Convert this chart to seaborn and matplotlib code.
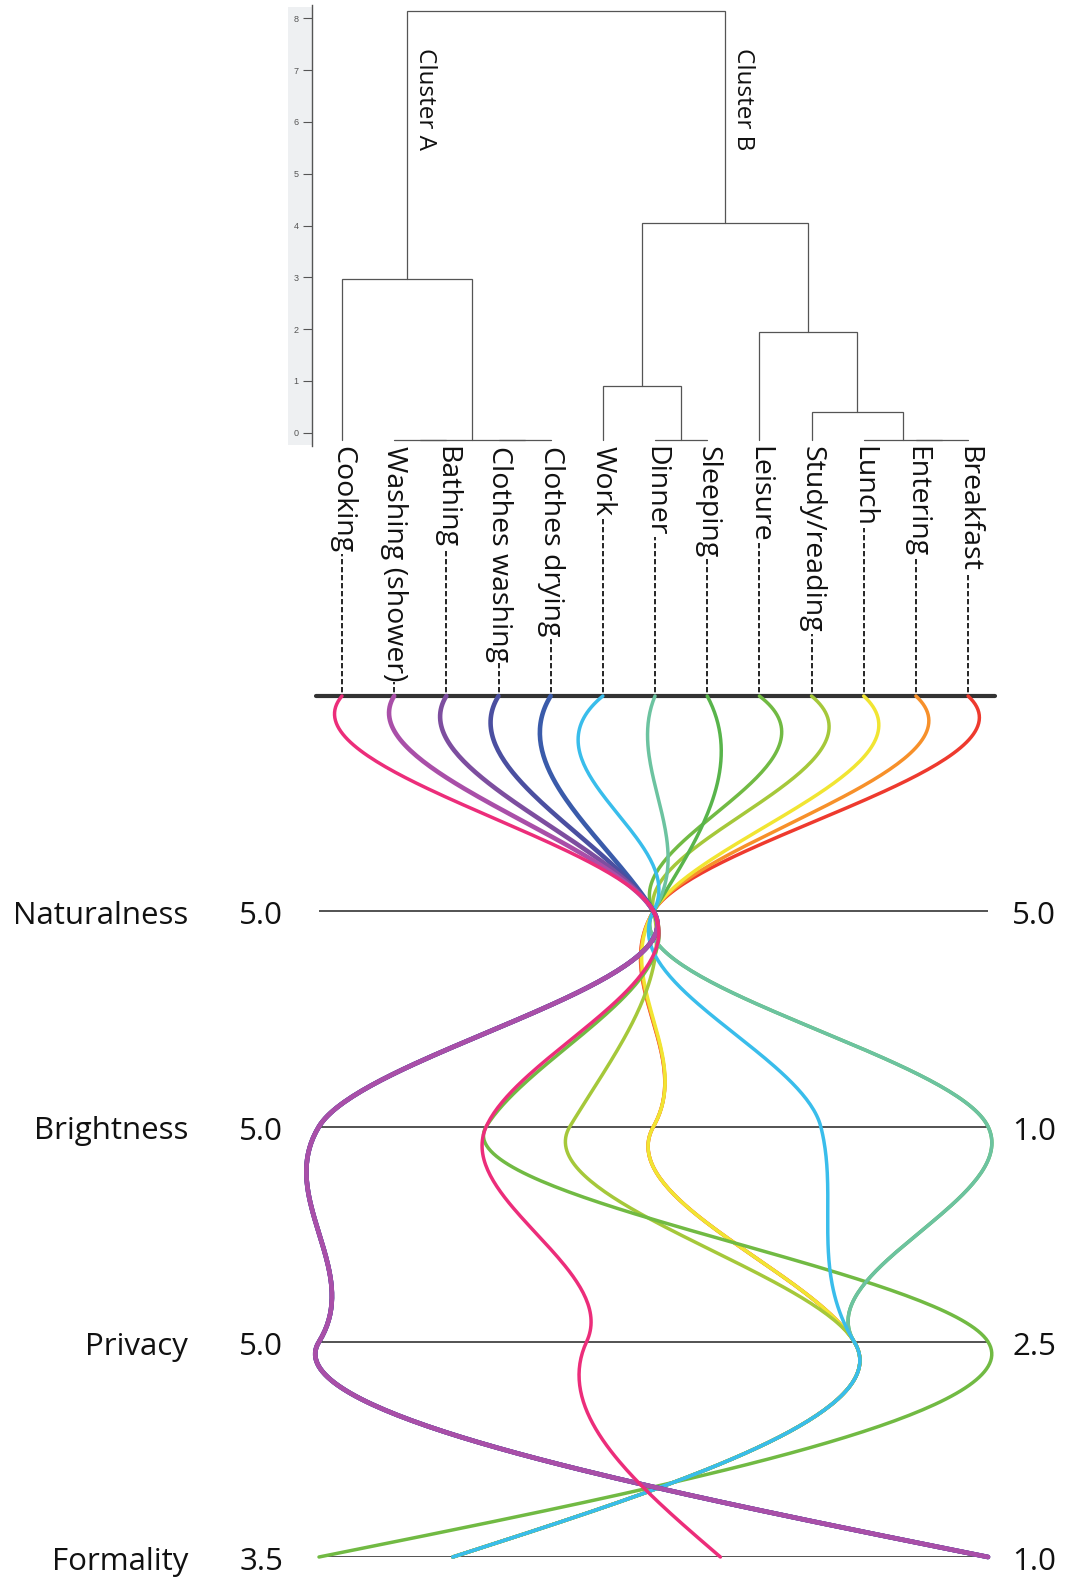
import numpy as np
import pandas as pd
import matplotlib
matplotlib.use("Agg")
import matplotlib.pyplot as plt
import matplotlib.transforms as mtransforms
from matplotlib.patches import Rectangle
import seaborn as sns

# ---------------------------------------------------------------- data
activities = ["Cooking", "Washing (shower)", "Bathing", "Clothes washing",
              "Clothes drying", "Work", "Dinner", "Sleeping", "Leisure",
              "Study/reading", "Lunch", "Entering", "Breakfast"]
line_colors = ["#EC2D7A", "#A94FA8", "#7D4E9F", "#4B4FA0", "#3A5BAA",
               "#39BDEB", "#6CC3A0", "#58B44B", "#71BA43", "#A5C83A",
               "#F1E532", "#F7902A", "#EE3A2E"]

naturalness = [5.0, 5.0, 5.0, 5.0, 5.0, 5.0, 5.0, 5.0, 5.0, 5.0, 5.0, 5.0, 5.0]
brightness = [4.0, 5.0, 5.0, 5.0, 5.0, 2.0, 1.0, 1.0, 4.0, 3.5, 3.0, 3.0, 3.0]
privacy = [4.0, 5.0, 5.0, 5.0, 5.0, 3.0, 3.0, 3.0, 2.5, 3.0, 3.0, 3.0, 3.0]
formality = [2.0, 1.0, 1.0, 1.0, 1.0, 3.0, 3.0, 3.0, 3.5, 3.0, 3.0, 3.0, 3.0]

dimensions = ["Naturalness", "Brightness", "Privacy", "Formality"]
dim_left_value = [5.0, 5.0, 5.0, 3.5]
dim_right_value = [5.0, 1.0, 2.5, 1.0]
dim_left_labels = ["5.0", "5.0", "5.0", "3.5"]
dim_right_labels = ["5.0", "1.0", "2.5", "1.0"]

# agglomerative merges: (new node, left child, right child, rescaled distance)
merges = [
    ("wb", "Washing (shower)", "Bathing", 0.0),
    ("cc", "Clothes washing", "Clothes drying", 0.0),
    ("wash", "wb", "cc", 0.0),
    ("ds", "Dinner", "Sleeping", 0.0),
    ("eb", "Entering", "Breakfast", 0.0),
    ("leb", "Lunch", "eb", 0.0),
    ("sl", "Study/reading", "leb", 0.39),
    ("wd", "Work", "ds", 0.90),
    ("ls", "Leisure", "sl", 1.95),
    ("Cluster A", "Cooking", "wash", 2.97),
    ("Cluster B", "wd", "ls", 4.04),
    ("root", "Cluster A", "Cluster B", 8.14),
]
leaf_base = -0.14

# ---------------------------------------------------------------- style
sns.set_style("white")
plt.rcParams["font.family"] = ["Open Sans", "DejaVu Sans"]

W, H = 1065, 1577
fig = plt.figure(figsize=(W / 100, H / 100), dpi=100)
fig.patch.set_facecolor("white")


def fx(px):
    return px / W


def fy(py):
    return 1 - py / H


# ---------------------------------------------------------------- dendrogram
fig.patches.append(Rectangle((fx(288), fy(445)), fx(312) - fx(288), fy(7) - fy(445),
                             transform=fig.transFigure, facecolor="#EEF0F2",
                             edgecolor="none", zorder=-1))

ax_d = fig.add_axes([fx(312), fy(446), fx(1000) - fx(312), fy(5) - fy(446)])
ax_d.set_zorder(2)
ax_d.set_xlim((312 - 342) / 52.17, (1000 - 342) / 52.17)
ax_d.set_ylim((432.7 - 446) / 51.8, (432.7 - 5) / 51.8)
for side in ["top", "right", "bottom"]:
    ax_d.spines[side].set_visible(False)
ax_d.spines["left"].set_color("#555555")
ax_d.spines["left"].set_linewidth(1.0)
ax_d.set_xticks([])
ax_d.set_yticks(range(9))
ax_d.tick_params(axis="y", left=True, labelleft=True, length=6.5, width=0.8,
                 color="#555555", pad=3, labelsize=6.5, labelcolor="#555555")
for lab in ax_d.get_yticklabels():
    lab.set_fontfamily(["Liberation Sans", "DejaVu Sans"])
ax_d.patch.set_alpha(0)

pos = {name: float(i) for i, name in enumerate(activities)}
hgt = {name: leaf_base for name in activities}
for node, left, right, dist in merges:
    h = dist if dist > 0 else leaf_base
    xl, xr = pos[left], pos[right]
    ax_d.plot([xl, xl, xr, xr], [hgt[left], h, h, hgt[right]],
              color="#555555", lw=0.9, solid_joinstyle="miter")
    pos[node] = (xl + xr) / 2
    hgt[node] = h

for cname in ["Cluster A", "Cluster B"]:
    ax_d.annotate(cname, xy=(pos[cname], 7.43), xytext=(18, 0),
                  textcoords="offset pixels", rotation=270, ha="center",
                  va="top", fontsize=17.5, color="#111111")

# ---------------------------------------------------------------- parallel axes
ax_p = fig.add_axes([fx(319), fy(1557), fx(988) - fx(319), fy(696) - fy(1557)])
ax_p.set_xlim(0, 1)
ax_p.set_ylim(4, 0)
ax_p.axis("off")

# leaf positions carried from the dendrogram scale onto the parallel axes
to_disp = ax_d.transData
from_disp = ax_p.transData.inverted()
leaf_x = [from_disp.transform(to_disp.transform((i, 0.0)))[0]
          for i in range(len(activities))]

ax_p.axhline(0, xmin=-0.004, xmax=1.011, color="#333333", lw=3.0,
             clip_on=False, zorder=5)
for k in range(1, 5):
    ax_p.axhline(k, xmin=0, xmax=1, color="#444444", lw=1.3, zorder=1)

# leaf labels with dashed leaders down to the top rule
blend_xdata = mtransforms.blended_transform_factory(ax_p.transData, fig.transFigure)
for name, xv in zip(activities, leaf_x):
    ax_p.plot([xv, xv], [fy(447), fy(695)], transform=blend_xdata,
              color="black", lw=1.2, ls=(0, (3.2, 1.6)), clip_on=False, zorder=2)
    ax_p.text(xv, fy(446), name, transform=blend_xdata, rotation=270,
              ha="center", va="top", fontsize=20.5, color="#111111", zorder=3,
              bbox=dict(facecolor="white", edgecolor="none", pad=0.6))


def normalise(v, k):
    lo, hi = dim_left_value[k], dim_right_value[k]
    if hi == lo:
        return 0.5
    return (v - lo) / (hi - lo)


def smooth_path(xs, n=80):
    """Hermite curve through the axis crossings, one segment per axis gap."""
    xs = np.asarray(xs, dtype=float)
    d = np.diff(xs)
    m = np.empty_like(xs)
    m[0] = -0.35 * np.tanh(d[0] / 0.05) - 0.3 * d[1]
    for i in range(1, len(xs) - 1):
        carry = np.exp(-(d[i] / 0.1) ** 2)
        m[i] = -0.2 * np.tanh(d[i] / 0.2) + 0.2 * np.tanh(d[i - 1] / 0.2) * carry
    m[-1] = (3 * d[-1] - m[-2]) / 2
    t = np.linspace(0, 1, n)
    h00 = 2 * t**3 - 3 * t**2 + 1
    h10 = t**3 - 2 * t**2 + t
    h01 = -2 * t**3 + 3 * t**2
    h11 = t**3 - t**2
    px, py = [], []
    for i in range(len(xs) - 1):
        seg = h00 * xs[i] + h10 * m[i] + h01 * xs[i + 1] + h11 * m[i + 1]
        px.append(seg if i == 0 else seg[1:])
        py.append(i + t if i == 0 else (i + t)[1:])
    return np.concatenate(px), np.concatenate(py)


series = [naturalness, brightness, privacy, formality]
group_wash = {"Washing (shower)", "Bathing", "Clothes washing", "Clothes drying"}
n_act = len(activities)
for idx in range(n_act - 1, -1, -1):
    name = activities[idx]
    pts = [leaf_x[idx]] + [normalise(series[k][idx], k) for k in range(4)]
    cx, cy = smooth_path(pts)
    df = pd.DataFrame({"x": cx, "y": cy})
    sns.lineplot(data=df, x="x", y="y", sort=False, estimator=None,
                 color=line_colors[idx], lw=3.3 if name in group_wash else 2.5,
                 ax=ax_p, legend=False, clip_on=False, zorder=10 + n_act - idx)
ax_p.set_xlim(0, 1)
ax_p.set_ylim(4, 0)
ax_p.axis("off")

# dimension names and end values
blend_ydata = mtransforms.blended_transform_factory(fig.transFigure, ax_p.transData)
lab_tr = mtransforms.offset_copy(blend_ydata, fig=fig, x=0, y=-13, units="dots")
for k, dim in enumerate(dimensions):
    yk = k + 1
    ax_p.text(fx(188), yk, dim, transform=lab_tr, ha="right", va="baseline",
              fontsize=22.5, color="#111111")
    ax_p.text(fx(283), yk, dim_left_labels[k], transform=lab_tr, ha="right",
              va="baseline", fontsize=22.5, color="#111111")
    ax_p.text(fx(1012), yk, dim_right_labels[k], transform=lab_tr, ha="left",
              va="baseline", fontsize=22.5, color="#111111")

fig.savefig("out.png", dpi=100, facecolor="white")
